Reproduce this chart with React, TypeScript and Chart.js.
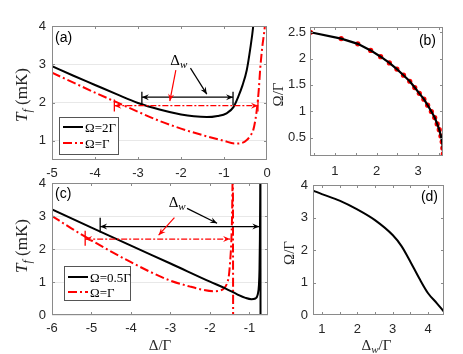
import React, { useEffect, useRef } from 'react';
import { Chart, registerables } from 'chart.js';

Chart.register(...registerables);

const PAGE_W = 463;
const PAGE_H = 354;
const AXIS_BOX = 28;

// ---------------- Panel (a) ----------------
const A_X_TICKS = [-5, -4, -3, -2, -1, 0];
const A_Y_TICKS = [1, 2, 3, 4];
const A_BLACK_X = [-5, -4.5, -4, -3.5, -3, -2.5, -2, -1.7, -1.4, -1.15, -0.94, -0.78, -0.67, -0.57, -0.47, -0.39, -0.32, -0.29];
const A_BLACK_Y = [2.95, 2.7, 2.46, 2.22, 1.99, 1.82, 1.69, 1.64, 1.62, 1.65, 1.72, 1.88, 2.15, 2.45, 2.85, 3.4, 4.0, 4.4];
const A_RED_X = [-5, -4.5, -4, -3.5, -3, -2.5, -2, -1.5, -1.0, -0.75, -0.6, -0.47, -0.38, -0.32, -0.27, -0.23, -0.19, -0.16, -0.11, -0.05, -0.02];
const A_RED_Y = [2.78, 2.52, 2.26, 2.01, 1.76, 1.52, 1.32, 1.15, 1.0, 0.93, 0.94, 1.02, 1.15, 1.28, 1.55, 1.88, 2.35, 2.85, 3.45, 4.0, 4.5];
const A_LEGEND = ['Ω=2Γ', 'Ω=Γ'];
// annotation values: [x, y]
const A_DW_POS = [-2.05, 3.11];
// [x1, x2, y, tickLow, tickHigh]
const A_BLACK_SPAN = [-2.91, -0.79, 2.14, 1.93, 2.28];
const A_RED_SPAN = [-3.55, -0.21, 1.92, 1.77, 2.08];
// pointer arrows [x1, y1, x2, y2]
const A_BLACK_PTR = [-1.78, 2.9, -1.4, 2.22];
const A_RED_PTR = [-2.12, 2.85, -2.26, 2.04];

// ---------------- Panel (b) ----------------
const B_X_TICKS = [1, 2, 3];
const B_X_MINOR = [0.5, 1.5, 2.5, 3.5];
const B_Y_TICKS = [0.5, 1, 1.5, 2, 2.5];
const B_X = [0.41, 1.15, 1.55, 1.86, 2.1, 2.31, 2.49, 2.65, 2.8, 2.92, 3.03, 3.14, 3.23, 3.32, 3.4, 3.46, 3.51, 3.55, 3.58, 3.595, 3.605];
const B_Y = [2.5, 2.38, 2.28, 2.155, 2.036, 1.917, 1.8, 1.685, 1.57, 1.45, 1.34, 1.23, 1.115, 0.995, 0.88, 0.76, 0.65, 0.53, 0.42, 0.3, 0.19];

// ---------------- Panel (c) ----------------
const C_X_TICKS = [-6, -5, -4, -3, -2, -1];
const C_Y_TICKS = [0, 1, 2, 3, 4];
const C_BLACK_X = [-6, -5, -4, -3, -2, -1.6, -1.3, -1.1, -0.95, -0.85, -0.79, -0.76, -0.745, -0.735, -0.728, -0.722, -0.719];
const C_BLACK_Y = [3.2, 2.65, 2.1, 1.56, 1.01, 0.8, 0.62, 0.52, 0.48, 0.5, 0.62, 0.9, 1.4, 2.3, 3.5, 5, -1];
const C_RED_X = [-6, -5.5, -5, -4.5, -4, -3.5, -3, -2.5, -2.2, -1.9, -1.75, -1.65, -1.57, -1.52, -1.49, -1.46, -1.44, -1.42, -1.412];
const C_RED_Y = [3.0, 2.62, 2.26, 1.92, 1.6, 1.3, 1.04, 0.86, 0.77, 0.72, 0.74, 0.8, 0.95, 1.2, 1.6, 2.2, 3.0, 4.5, -1];
const C_LEGEND = ['Ω=0.5Γ', 'Ω=Γ'];
const C_DW_POS = [-2.83, 3.42];
const C_BLACK_SPAN = [-4.78, -0.75, 2.68, 2.5, 2.95];
const C_RED_SPAN = [-5.16, -1.49, 2.3, 2.1, 2.55];
const C_BLACK_PTR = [-2.58, 3.23, -1.82, 2.78];
const C_RED_PTR = [-2.9, 2.95, -3.3, 2.42];

// ---------------- Panel (d) ----------------
const D_X_TICKS = [1, 2, 3, 4];
const D_X_MINOR = [1.5, 2.5, 3.5];
const D_Y_TICKS = [0, 1, 2, 3, 4];
const D_X = [0.77, 1.0, 1.5, 2.0, 2.5, 3.0, 3.25, 3.5, 3.75, 4.0, 4.25, 4.45];
const D_Y = [3.82, 3.72, 3.52, 3.25, 2.92, 2.46, 2.12, 1.64, 1.13, 0.67, 0.36, 0.1];

// ---------------- styles ----------------
const SANS = '"Liberation Sans", Arial, Helvetica, sans-serif';
const SERIF = '"Liberation Serif", "DejaVu Serif", serif';
const TICK_COLOR = '#262626';
const FRAME_COLOR = '#8a8a8a';
const RED = '#ff0000';
const RED_DASH = [9, 3, 2, 3];
const RED_ARROW_DASH = [6, 2, 2, 2];

type Seg = { t: string; size: number; italic?: boolean; dy?: number };

function xy(xs: number[], ys: number[]) {
  return xs.map((x, i) => ({ x, y: ys[i] }));
}

function drawRich(ctx: CanvasRenderingContext2D, segs: Seg[], x: number, y: number, align: 'center' | 'left' = 'center') {
  const fontOf = (s: Seg) => `${s.italic ? 'italic ' : ''}${s.size}px ${SERIF}`;
  let total = 0;
  const widths = segs.map((s) => {
    ctx.font = fontOf(s);
    const w = ctx.measureText(s.t).width;
    total += w;
    return w;
  });
  let cx = align === 'center' ? x - total / 2 : x;
  ctx.textAlign = 'left';
  ctx.textBaseline = 'alphabetic';
  segs.forEach((s, i) => {
    ctx.font = fontOf(s);
    ctx.fillText(s.t, cx, y + (s.dy || 0));
    cx += widths[i];
  });
}

function arrowHead(ctx: CanvasRenderingContext2D, x: number, y: number, ang: number, color: string) {
  const len = 7;
  const half = 3;
  ctx.save();
  ctx.translate(x, y);
  ctx.rotate(ang);
  ctx.setLineDash([]);
  ctx.beginPath();
  ctx.moveTo(0, 0);
  ctx.lineTo(-len, -half);
  ctx.lineTo(-len * 0.65, 0);
  ctx.lineTo(-len, half);
  ctx.closePath();
  ctx.fillStyle = color;
  ctx.fill();
  ctx.restore();
}

function arrow(ctx: CanvasRenderingContext2D, x1: number, y1: number, x2: number, y2: number, color: string, lw: number, dash: number[], both: boolean) {
  ctx.save();
  ctx.strokeStyle = color;
  ctx.lineWidth = lw;
  ctx.setLineDash(dash);
  ctx.beginPath();
  ctx.moveTo(x1, y1);
  ctx.lineTo(x2, y2);
  ctx.stroke();
  const a = Math.atan2(y2 - y1, x2 - x1);
  arrowHead(ctx, x2, y2, a, color);
  if (both) arrowHead(ctx, x1, y1, a + Math.PI, color);
  ctx.restore();
}

type PanelDef = {
  area: [number, number, number, number];
  xRange: [number, number];
  yRange: [number, number];
  xTicks: number[];
  yTicks: number[];
  xMinor?: number[];
  grid: boolean;
  xPad: number;
  yPad: number;
  datasets: any[];
  extra: (ctx: CanvasRenderingContext2D, chart: any) => void;
};

function makeChart(canvas: HTMLCanvasElement, p: PanelDef) {
  const [L, T, R, B] = p.area;
  const framePlugin = {
    id: 'frame',
    afterDraw(chart: any) {
      const ctx = chart.ctx as CanvasRenderingContext2D;
      const ca = chart.chartArea;
      const sx = chart.scales.x;
      const sy = chart.scales.y;
      ctx.save();
      ctx.strokeStyle = FRAME_COLOR;
      ctx.lineWidth = 1;
      ctx.setLineDash([]);
      ctx.strokeRect(Math.round(ca.left) + 0.5, Math.round(ca.top) + 0.5, Math.round(ca.right - ca.left) - 1, Math.round(ca.bottom - ca.top) - 1);
      ctx.beginPath();
      const tl = 3;
      const xt = p.xTicks.concat(p.xMinor || []);
      xt.forEach((v) => {
        const px = Math.round(sx.getPixelForValue(v)) + 0.5;
        if (px <= ca.left + 1 || px >= ca.right - 1) return;
        ctx.moveTo(px, ca.bottom);
        ctx.lineTo(px, ca.bottom - tl);
        ctx.moveTo(px, ca.top);
        ctx.lineTo(px, ca.top + tl);
      });
      p.yTicks.forEach((v) => {
        const py = Math.round(sy.getPixelForValue(v)) + 0.5;
        if (py <= ca.top + 1 || py >= ca.bottom - 1) return;
        ctx.moveTo(ca.left, py);
        ctx.lineTo(ca.left + tl, py);
        ctx.moveTo(ca.right, py);
        ctx.lineTo(ca.right - tl, py);
      });
      ctx.stroke();
      ctx.restore();
      ctx.save();
      p.extra(ctx, chart);
      ctx.restore();
    },
  };
  return new Chart(canvas, {
    type: 'scatter',
    data: { datasets: p.datasets },
    options: {
      animation: false,
      responsive: false,
      maintainAspectRatio: false,
      events: [],
      layout: { padding: { left: L - AXIS_BOX, top: T, right: PAGE_W - R, bottom: PAGE_H - B - AXIS_BOX } },
      plugins: { legend: { display: false }, tooltip: { enabled: false } },
      scales: {
        x: {
          type: 'linear',
          position: 'bottom',
          min: p.xRange[0],
          max: p.xRange[1],
          afterFit: (s: any) => {
            s.height = AXIS_BOX;
          },
          afterBuildTicks: (s: any) => {
            s.ticks = p.xTicks.map((v) => ({ value: v }));
          },
          grid: { display: false, drawTicks: false },
          border: { display: false },
          ticks: {
            font: { family: SANS, size: 13 },
            color: TICK_COLOR,
            padding: p.xPad,
            autoSkip: false,
            maxRotation: 0,
            minRotation: 0,
            callback: (v: any) => String(v),
          },
        },
        y: {
          type: 'linear',
          position: 'left',
          min: p.yRange[0],
          max: p.yRange[1],
          afterFit: (s: any) => {
            s.width = AXIS_BOX;
          },
          afterBuildTicks: (s: any) => {
            s.ticks = p.yTicks.map((v) => ({ value: v }));
          },
          grid: { display: p.grid, drawTicks: false, color: '#e8e8e8', lineWidth: 1 },
          border: { display: false },
          ticks: {
            font: { family: SANS, size: 13 },
            color: TICK_COLOR,
            padding: p.yPad,
            autoSkip: false,
            callback: (v: any) => String(v),
          },
        },
      },
    } as any,
    plugins: [framePlugin],
  });
}

function lineDs(xs: number[], ys: number[], color: string, dash: number[]) {
  return {
    data: xy(xs, ys),
    showLine: true,
    borderColor: color,
    backgroundColor: color,
    borderWidth: 2,
    borderDash: dash,
    pointRadius: 0,
    cubicInterpolationMode: 'monotone',
    clip: 0,
  };
}

function legend(ctx: CanvasRenderingContext2D, left: number, top: number, w: number, h: number, labels: string[], rowY: number[]) {
  ctx.save();
  ctx.fillStyle = '#ffffff';
  ctx.fillRect(left, top, w, h);
  ctx.strokeStyle = '#555555';
  ctx.lineWidth = 1;
  ctx.setLineDash([]);
  ctx.strokeRect(left + 0.5, top + 0.5, w, h);
  labels.forEach((lab, i) => {
    const y = top + rowY[i];
    ctx.beginPath();
    ctx.lineWidth = 2;
    ctx.strokeStyle = i === 0 ? '#000' : RED;
    ctx.setLineDash(i === 0 ? [] : RED_DASH);
    ctx.moveTo(left + 4, y);
    ctx.lineTo(left + 24, y);
    ctx.stroke();
    ctx.fillStyle = '#000';
    drawRich(ctx, [{ t: lab, size: 13 }], left + 26, y + 4.5, 'left');
  });
  ctx.restore();
}

function spanDraw(ctx: CanvasRenderingContext2D, chart: any, span: number[], color: string, dash: number[], lw: number) {
  const sx = chart.scales.x;
  const sy = chart.scales.y;
  const x1 = sx.getPixelForValue(span[0]);
  const x2 = sx.getPixelForValue(span[1]);
  const y = sy.getPixelForValue(span[2]);
  arrow(ctx, x1, y, x2, y, color, lw, dash, true);
}

function tickDraw(ctx: CanvasRenderingContext2D, chart: any, x: number, lo: number, hi: number, color: string) {
  const sx = chart.scales.x;
  const sy = chart.scales.y;
  const px = sx.getPixelForValue(x);
  ctx.save();
  ctx.strokeStyle = color;
  ctx.lineWidth = 1.3;
  ctx.setLineDash([]);
  ctx.beginPath();
  ctx.moveTo(px, sy.getPixelForValue(lo));
  ctx.lineTo(px, sy.getPixelForValue(hi));
  ctx.stroke();
  ctx.restore();
}

function ptrDraw(ctx: CanvasRenderingContext2D, chart: any, ptr: number[], color: string) {
  const sx = chart.scales.x;
  const sy = chart.scales.y;
  arrow(ctx, sx.getPixelForValue(ptr[0]), sy.getPixelForValue(ptr[1]), sx.getPixelForValue(ptr[2]), sy.getPixelForValue(ptr[3]), color, 1.2, [], false);
}

function dwText(ctx: CanvasRenderingContext2D, chart: any, pos: number[]) {
  const sx = chart.scales.x;
  const sy = chart.scales.y;
  ctx.fillStyle = '#000';
  drawRich(ctx, [{ t: 'Δ', size: 15 }, { t: 'w', size: 11, italic: true, dy: 3 }], sx.getPixelForValue(pos[0]), sy.getPixelForValue(pos[1]) + 5);
}

function yTitle(ctx: CanvasRenderingContext2D, segs: Seg[], x: number, y: number) {
  ctx.save();
  ctx.translate(x, y);
  ctx.rotate(-Math.PI / 2);
  ctx.fillStyle = '#262626';
  drawRich(ctx, segs, 0, 0);
  ctx.restore();
}

function panelLabel(ctx: CanvasRenderingContext2D, text: string, x: number, y: number, align: CanvasTextAlign) {
  ctx.save();
  ctx.font = `14px ${SANS}`;
  ctx.fillStyle = '#000';
  ctx.textAlign = align;
  ctx.textBaseline = 'alphabetic';
  ctx.fillText(text, x, y);
  ctx.restore();
}

const TF_TITLE: Seg[] = [
  { t: 'T', size: 17, italic: true },
  { t: 'f', size: 12, italic: true, dy: 4 },
  { t: ' (mK)', size: 17 },
];
const OMEGA_TITLE: Seg[] = [{ t: 'Ω/Γ', size: 15 }];

const PANEL_A: PanelDef = {
  area: [52, 26, 267, 160],
  xRange: [-5, 0],
  yRange: [0.5, 4],
  xTicks: A_X_TICKS,
  yTicks: A_Y_TICKS,
  grid: true,
  xPad: 6,
  yPad: 6,
  datasets: [lineDs(A_BLACK_X, A_BLACK_Y, '#000000', []), lineDs(A_RED_X, A_RED_Y, RED, RED_DASH)],
  extra: (ctx, chart) => {
    const ca = chart.chartArea;
    spanDraw(ctx, chart, A_BLACK_SPAN, '#000', [], 1.2);
    tickDraw(ctx, chart, A_BLACK_SPAN[0], A_BLACK_SPAN[3], A_BLACK_SPAN[4], '#000');
    tickDraw(ctx, chart, A_BLACK_SPAN[1], A_BLACK_SPAN[3], A_BLACK_SPAN[4], '#000');
    spanDraw(ctx, chart, A_RED_SPAN, RED, RED_ARROW_DASH, 1.3);
    tickDraw(ctx, chart, A_RED_SPAN[0], A_RED_SPAN[3], A_RED_SPAN[4], RED);
    tickDraw(ctx, chart, A_RED_SPAN[1], A_RED_SPAN[3], A_RED_SPAN[4], RED);
    ptrDraw(ctx, chart, A_BLACK_PTR, '#000');
    ptrDraw(ctx, chart, A_RED_PTR, RED);
    dwText(ctx, chart, A_DW_POS);
    legend(ctx, ca.left + 7, ca.bottom - 43, 59, 37, A_LEGEND, [10, 26]);
    panelLabel(ctx, '(a)', ca.left + 3, ca.top + 16, 'left');
    yTitle(ctx, TF_TITLE, 27, (ca.top + ca.bottom) / 2 + 2);
  },
};

const PANEL_B: PanelDef = {
  area: [310, 27, 443, 156],
  xRange: [0.4, 3.6],
  yRange: [0.15, 2.6],
  xTicks: B_X_TICKS,
  yTicks: B_Y_TICKS,
  xMinor: B_X_MINOR,
  grid: false,
  xPad: 8,
  yPad: 4,
  datasets: [
    { data: xy(B_X, B_Y), showLine: true, borderColor: '#000', borderWidth: 2.2, pointRadius: 0 },
    { data: xy(B_X, B_Y), showLine: false, pointRadius: 2.6, pointBackgroundColor: RED, pointBorderWidth: 0, borderColor: RED, backgroundColor: RED },
  ],
  extra: (ctx, chart) => {
    const ca = chart.chartArea;
    panelLabel(ctx, '(b)', ca.right - 7, ca.top + 18, 'right');
    yTitle(ctx, OMEGA_TITLE, 283, (ca.top + ca.bottom) / 2 + 3);
  },
};

const PANEL_C: PanelDef = {
  area: [52, 183, 268, 315],
  xRange: [-6, -0.53],
  yRange: [0, 4],
  xTicks: C_X_TICKS,
  yTicks: C_Y_TICKS,
  grid: true,
  xPad: 6,
  yPad: 6,
  datasets: [lineDs(C_BLACK_X, C_BLACK_Y, '#000000', []), lineDs(C_RED_X, C_RED_Y, RED, RED_DASH)],
  extra: (ctx, chart) => {
    const ca = chart.chartArea;
    spanDraw(ctx, chart, C_BLACK_SPAN, '#000', [], 1.2);
    tickDraw(ctx, chart, C_BLACK_SPAN[0], C_BLACK_SPAN[3], C_BLACK_SPAN[4], '#000');
    spanDraw(ctx, chart, C_RED_SPAN, RED, RED_ARROW_DASH, 1.3);
    tickDraw(ctx, chart, C_RED_SPAN[0], C_RED_SPAN[3], C_RED_SPAN[4], RED);
    ptrDraw(ctx, chart, C_BLACK_PTR, '#000');
    ptrDraw(ctx, chart, C_RED_PTR, RED);
    dwText(ctx, chart, C_DW_POS);
    legend(ctx, ca.left + 12, ca.bottom - 49, 66, 34, C_LEGEND, [11, 26]);
    panelLabel(ctx, '(c)', ca.left + 3, ca.top + 15, 'left');
    yTitle(ctx, TF_TITLE, 27, (ca.top + ca.bottom) / 2 - 3);
    ctx.fillStyle = '#262626';
    drawRich(ctx, [{ t: 'Δ/Γ', size: 15 }], (ca.left + ca.right) / 2, 350);
  },
};

const PANEL_D: PanelDef = {
  area: [313, 185, 444, 315],
  xRange: [0.75, 4.45],
  yRange: [0, 4],
  xTicks: D_X_TICKS,
  yTicks: D_Y_TICKS,
  xMinor: D_X_MINOR,
  grid: false,
  xPad: 7,
  yPad: 5,
  datasets: [lineDs(D_X, D_Y, '#000000', [])],
  extra: (ctx, chart) => {
    const ca = chart.chartArea;
    panelLabel(ctx, '(d)', ca.right - 6, ca.top + 16, 'right');
    yTitle(ctx, OMEGA_TITLE, 294, (ca.top + ca.bottom) / 2 + 3);
    ctx.fillStyle = '#262626';
    drawRich(ctx, [{ t: 'Δ', size: 15 }, { t: 'w', size: 11, italic: true, dy: 3 }, { t: '/Γ', size: 15 }], (ca.left + ca.right) / 2 - 2, 350);
  },
};

const PANELS = [PANEL_A, PANEL_B, PANEL_C, PANEL_D];

export default function App() {
  const refs = [useRef<HTMLCanvasElement>(null), useRef<HTMLCanvasElement>(null), useRef<HTMLCanvasElement>(null), useRef<HTMLCanvasElement>(null)];
  useEffect(() => {
    const charts = PANELS.map((p, i) => makeChart(refs[i].current as HTMLCanvasElement, p));
    return () => charts.forEach((c) => c.destroy());
  }, []);
  return (
    <div style={{ position: 'fixed', left: 0, top: 0, width: PAGE_W, height: PAGE_H, background: '#ffffff' }}>
      {PANELS.map((_, i) => (
        <canvas
          key={i}
          ref={refs[i]}
          width={PAGE_W}
          height={PAGE_H}
          style={{ position: 'absolute', left: 0, top: 0, width: PAGE_W, height: PAGE_H }}
        />
      ))}
    </div>
  );
}
